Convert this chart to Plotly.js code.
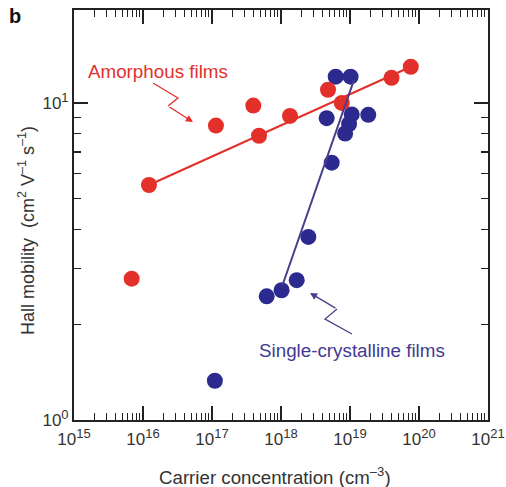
<!DOCTYPE html>
<html>
<head>
<meta charset="utf-8">
<script src="https://cdn.plot.ly/plotly-3.0.1.min.js"></script>
<style>
  html, body { margin: 0; padding: 0; background: #fff; }
  #chart { width: 506px; height: 487px; }
</style>
</head>
<body>
<div id="chart"></div>
<script>
// Hall mobility versus carrier concentration for amorphous and single-crystalline films
const amorphousConc = [6.85e15, 1.22e16, 1.14e17, 3.97e17, 4.8e17, 1.35e18, 4.8e18, 7.6e18, 4.0e19, 7.6e19];
const amorphousMobility = [2.79, 5.51, 8.48, 9.81, 7.88, 9.1, 11.0, 10.0, 12.0, 13.0];

const crystalConc = [1.1e17, 6.2e17, 1.02e18, 1.69e18, 2.49e18, 5.43e18, 4.59e18, 6.2e18, 1.02e19, 1.84e19, 1.06e19, 9.7e18, 8.5e18];
const crystalMobility = [1.33, 2.455, 2.565, 2.76, 3.78, 6.48, 8.95, 12.1, 12.1, 9.17, 9.2, 8.58, 8.01];

// Trend lines (end points)
const amorphousFitConc = [1.22e16, 7.6e19];
const amorphousFitMobility = [5.51, 13.0];
const crystalFitConc = [1.05e18, 1.14e19];
const crystalFitMobility = [2.66, 11.8];

// Axis ticks
const xTickVals = [1e15, 1e16, 1e17, 1e18, 1e19, 1e20, 1e21];
const xTickExp = ['15', '16', '17', '18', '19', '20', '21'];
const yTickVals = [1, 10];
const yTickExp = ['0', '1'];

// power-of-ten label with a slightly larger exponent than the default <sup> size
const pow10 = e => '10<sup><span style="font-size:13px">' + e + '</span></sup>';

const RED = '#e3302a';
const BLUE = '#2c2a8e';
const BLUE_LINE = '#4a3d8c';
const TEXT_BLUE = '#3f3b92';
const FONT = 'Liberation Sans, Arial, Helvetica, sans-serif';

const traces = [
  {
    x: crystalConc, y: crystalMobility, type: 'scatter', mode: 'markers',
    name: 'Single-crystalline films',
    marker: { color: BLUE, size: 16, line: { width: 0 } }
  },
  {
    x: amorphousConc, y: amorphousMobility, type: 'scatter', mode: 'markers',
    name: 'Amorphous films',
    marker: { color: RED, size: 16, line: { width: 0 } }
  },
  {
    x: amorphousFitConc, y: amorphousFitMobility, type: 'scatter', mode: 'lines',
    line: { color: RED, width: 2 }, hoverinfo: 'skip'
  },
  {
    x: crystalFitConc, y: crystalFitMobility, type: 'scatter', mode: 'lines',
    line: { color: BLUE_LINE, width: 2 }, hoverinfo: 'skip'
  }
];

const axisCommon = {
  type: 'log',
  showgrid: false,
  zeroline: false,
  showline: true,
  linecolor: '#222',
  linewidth: 2,
  mirror: 'ticks',
  ticks: 'inside',
  ticklen: 14,
  tickwidth: 1.3,
  tickcolor: '#222',
  tickfont: { family: FONT, size: 17, color: '#333' },
  minor: { ticks: 'inside', ticklen: 7, tickwidth: 1.1, tickcolor: '#222', dtick: 'D1', showgrid: false }
};

const layout = {
  width: 506, height: 487,
  margin: { l: 74, r: 18, t: 10, b: 67 },
  paper_bgcolor: '#fff', plot_bgcolor: '#fff',
  showlegend: false,
  font: { family: FONT, color: '#333' },
  xaxis: Object.assign({}, axisCommon, {
    range: [15, 21],
    tickmode: 'array', tickvals: xTickVals, ticktext: xTickExp.map(pow10),
    ticklabelstandoff: 3
  }),
  yaxis: Object.assign({}, axisCommon, {
    range: [0, 1.293],
    tickmode: 'array', tickvals: yTickVals, ticktext: yTickExp.map(pow10)
  }),
  shapes: [
    {
      type: 'path', xref: 'paper', yref: 'paper',
      path: 'M 0.1908 0.8220 L 0.2512 0.7854 L 0.2271 0.7659',
      line: { color: RED, width: 1.3 }
    },
    {
      type: 'path', xref: 'paper', yref: 'paper',
      path: 'M 0.6715 0.2098 L 0.6063 0.2463 L 0.6353 0.2707',
      line: { color: BLUE_LINE, width: 1.3 }
    }
  ],
  annotations: [
    {
      text: 'Amorphous films', xref: 'paper', yref: 'paper', x: 0.2017, y: 0.8488,
      xanchor: 'center', yanchor: 'middle', showarrow: false,
      font: { family: FONT, size: 18.8, color: RED }
    },
    {
      text: '', xref: 'paper', yref: 'paper', x: 0.2874, y: 0.7268,
      showarrow: true, axref: 'pixel', ayref: 'pixel', ax: -25, ay: -16,
      arrowhead: 2, arrowsize: 1.1, arrowwidth: 1.3, arrowcolor: RED
    },
    {
      text: 'Single-crystalline films', xref: 'paper', yref: 'paper', x: 0.6703, y: 0.1707,
      xanchor: 'center', yanchor: 'middle', showarrow: false,
      font: { family: FONT, size: 18.8, color: TEXT_BLUE }
    },
    {
      text: '', xref: 'paper', yref: 'paper', x: 0.5700, y: 0.3098,
      showarrow: true, axref: 'pixel', ayref: 'pixel', ax: 27, ay: 16,
      arrowhead: 2, arrowsize: 1.1, arrowwidth: 1.3, arrowcolor: BLUE_LINE
    },
    {
      text: 'Carrier concentration (cm<sup>–3</sup>)',
      xref: 'paper', yref: 'paper', x: 0.4855, y: -0.1366,
      xanchor: 'center', yanchor: 'middle', showarrow: false,
      font: { family: FONT, size: 18.7, color: '#333' }
    },
    {
      text: 'Hall mobility  (cm<sup>2</sup> V<sup>–1</sup> s<sup>–1</sup>)',
      xref: 'paper', yref: 'paper', x: -0.116, y: 0.4634, textangle: -90,
      xanchor: 'center', yanchor: 'middle', showarrow: false,
      font: { family: FONT, size: 18, color: '#333' }
    },
    {
      text: '<b>b</b>', xref: 'paper', yref: 'paper', x: -0.1425, y: 0.985,
      xanchor: 'center', yanchor: 'middle', showarrow: false,
      font: { family: FONT, size: 20, color: '#111' }
    }
  ]
};

Plotly.newPlot('chart', traces, layout, { displayModeBar: false, staticPlot: true });
</script>
</body>
</html>
